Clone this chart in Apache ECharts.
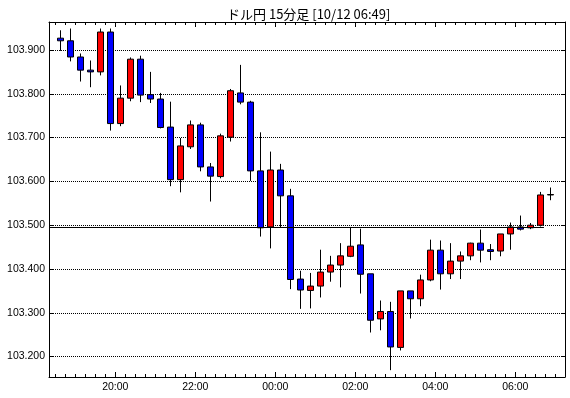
<!DOCTYPE html>
<html>
<head>
<meta charset="utf-8">
<script src="https://cdn.jsdelivr.net/npm/echarts@6/dist/echarts.min.js"></script>
<style>
  html, body { margin: 0; padding: 0; background: #fff; }
  #chart { width: 570px; height: 398px; }
</style>
</head>
<body>
<div id="chart"></div>
<script>
// 15分足 (candle start times)
var times = [
  '18:30', '18:45', '19:00', '19:15', '19:30', '19:45', '20:00', '20:15', '20:30', '20:45',
  '21:00', '21:15', '21:30', '21:45', '22:00', '22:15', '22:30', '22:45', '23:00', '23:15',
  '23:30', '23:45', '00:00', '00:15', '00:30', '00:45', '01:00', '01:15', '01:30', '01:45',
  '02:00', '02:15', '02:30', '02:45', '03:00', '03:15', '03:30', '03:45', '04:00', '04:15',
  '04:30', '04:45', '05:00', '05:15', '05:30', '05:45', '06:00', '06:15', '06:30', '06:45'
]
var opens = [
  103.927, 103.921, 103.884, 103.854, 103.850, 103.941, 103.732, 103.790, 103.879, 103.798,
  103.788, 103.724, 103.604, 103.679, 103.729, 103.633, 103.611, 103.701, 103.802, 103.781,
  103.624, 103.496, 103.626, 103.567, 103.377, 103.351, 103.361, 103.393, 103.409, 103.429,
  103.455, 103.389, 103.286, 103.303, 103.221, 103.350, 103.332, 103.375, 103.443, 103.389,
  103.418, 103.430, 103.459, 103.444, 103.441, 103.480, 103.496, 103.494, 103.500, 103.569
]
var closes = [
  103.921, 103.884, 103.854, 103.850, 103.941, 103.732, 103.790, 103.879, 103.797, 103.788,
  103.723, 103.604, 103.681, 103.729, 103.633, 103.612, 103.704, 103.807, 103.781, 103.624,
  103.494, 103.626, 103.567, 103.376, 103.352, 103.361, 103.393, 103.409, 103.430, 103.452,
  103.388, 103.283, 103.303, 103.222, 103.350, 103.332, 103.375, 103.443, 103.389, 103.418,
  103.430, 103.459, 103.443, 103.440, 103.480, 103.496, 103.491, 103.500, 103.569, 103.570
]
var lows = [
  103.898, 103.874, 103.828, 103.815, 103.842, 103.716, 103.726, 103.783, 103.781, 103.779,
  103.721, 103.589, 103.575, 103.674, 103.623, 103.554, 103.607, 103.691, 103.776, 103.601,
  103.474, 103.447, 103.494, 103.354, 103.309, 103.310, 103.335, 103.371, 103.358, 103.427,
  103.344, 103.255, 103.260, 103.169, 103.214, 103.287, 103.315, 103.372, 103.353, 103.377,
  103.377, 103.420, 103.415, 103.420, 103.429, 103.444, 103.488, 103.491, 103.497, 103.557
]
var highs = [
  103.945, 103.949, 103.892, 103.876, 103.949, 103.949, 103.819, 103.883, 103.887, 103.850,
  103.802, 103.782, 103.699, 103.739, 103.734, 103.642, 103.709, 103.811, 103.866, 103.784,
  103.712, 103.668, 103.640, 103.583, 103.396, 103.391, 103.444, 103.430, 103.459, 103.496,
  103.492, 103.389, 103.328, 103.325, 103.350, 103.350, 103.387, 103.467, 103.465, 103.459,
  103.440, 103.460, 103.490, 103.457, 103.480, 103.506, 103.522, 103.505, 103.576, 103.586
]
var xTickLabels = ['20:00', '22:00', '00:00', '02:00', '04:00', '06:00']
var yTickLabels = [103.2, 103.3, 103.4, 103.5, 103.6, 103.7, 103.8, 103.9]
var refPrice = 103.496
var refEnd = '06:43'

// quarter hours since 18:00
function slotOf(t) {
  var p = t.split(':').map(Number)
  return ((p[0] * 60 + p[1] - 18 * 60 + 1440) % 1440) / 15
}

var xMin = 1.37
var xMax = 52.97
var yMin = 103.1534
var yMax = 103.9639

var xMajor = xTickLabels.map(slotOf)
var xMinor = []
for (var i = Math.ceil(xMin); i <= Math.floor(xMax); i++) xMinor.push(i)
var yMinor = []
for (var j = 58; j <= 98; j++) yMinor.push(+(103 + j * 0.02).toFixed(2))

var candles = times.map(function (t, i) {
  return [slotOf(t) + 0.5, opens[i], closes[i], lows[i], highs[i]]
})

var font = 'Liberation Sans'
var black = '#000'

function xAxisOf(pos, ticks, len, withLabel, withLine) {
  return {
    type: 'value', position: pos, min: xMin, max: xMax,
    axisLine: { show: withLine, lineStyle: { color: black, width: 1 } },
    axisTick: { show: true, inside: true, length: len, customValues: ticks, lineStyle: { color: black } },
    axisLabel: {
      show: withLabel, customValues: xMajor, margin: 5, color: black,
      fontFamily: font, fontSize: 10.5,
      formatter: function (v) { return xTickLabels[xMajor.indexOf(v)] }
    },
    splitLine: { show: false }
  }
}

function yAxisOf(pos, ticks, len, withLabel, withLine, withSplit) {
  return {
    type: 'value', position: pos, min: yMin, max: yMax,
    axisLine: { show: withLine, lineStyle: { color: black, width: 1 } },
    axisTick: { show: true, inside: true, length: len, customValues: ticks, lineStyle: { color: black } },
    axisLabel: {
      show: withLabel, customValues: yTickLabels, margin: 4, color: black,
      fontFamily: font, fontSize: 10.5,
      formatter: function (v) { return v.toFixed(3) }
    },
    splitLine: { show: withSplit, lineStyle: { color: black, type: [1, 1], width: 1 } }
  }
}

var chart = echarts.init(document.getElementById('chart'))
chart.setOption({
  animation: false,
  backgroundColor: '#fff',
  title: {
    text: 'ドル円 15分足 [10/12 06:49]',
    left: 222, top: 3,
    textStyle: { fontFamily: 'Noto Sans CJK JP', fontSize: 13, fontWeight: 'normal', color: black }
  },
  grid: { left: 49, right: 5, top: 22, bottom: 21 },
  xAxis: [
    xAxisOf('bottom', xMinor, 3, true, true),
    xAxisOf('bottom', xMajor, 5, false, false),
    xAxisOf('top', xMinor, 3, false, true),
    xAxisOf('top', xMajor, 5, false, false)
  ],
  yAxis: [
    yAxisOf('left', yMinor, 3, true, true, false),
    yAxisOf('left', yTickLabels, 4, false, false, true),
    yAxisOf('right', yMinor, 3, false, true, false),
    yAxisOf('right', yTickLabels, 4, false, false, false)
  ],
  series: [{
    type: 'candlestick',
    xAxisIndex: 0,
    yAxisIndex: 0,
    barWidth: 6,
    data: candles,
    itemStyle: {
      color: '#ff0000',
      color0: '#0000ff',
      borderColor: black,
      borderColor0: black,
      borderColorDoji: black,
      borderWidth: 1
    },
    markLine: {
      silent: true,
      symbol: 'none',
      label: { show: false },
      lineStyle: { color: black, type: 'solid', width: 1 },
      data: [[{ coord: [xMin, refPrice] }, { coord: [slotOf(refEnd), refPrice] }]]
    }
  }]
})
</script>
</body>
</html>
